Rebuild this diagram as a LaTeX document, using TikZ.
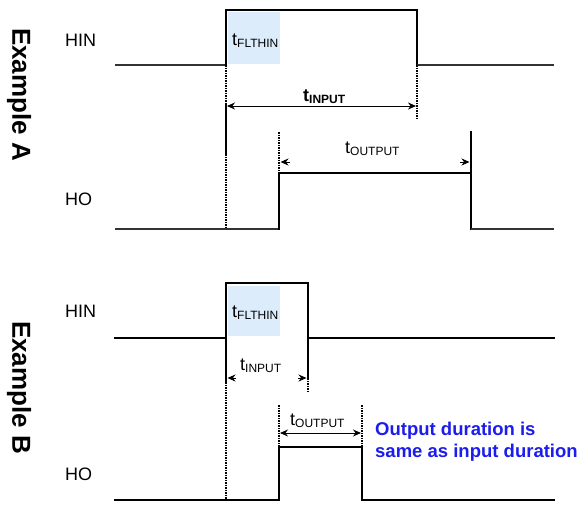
\documentclass[tikz,border=0pt]{standalone}
\usepackage{fontspec}
\setmainfont{Liberation Sans}
\usetikzlibrary{arrows.meta}
\definecolor{shadeblue}{RGB}{220,236,251}
\definecolor{noteblue}{RGB}{28,28,238}
\newcommand\tsub[1]{t\raisebox{-0.13em}{\fontsize{12}{12}\selectfont #1}}
\tikzset{
  sig/.style={line width=2.6pt, line cap=rect, line join=miter},
  thinsig/.style={line width=1.5pt, black!80},
  dotv/.style={line width=2.2pt, dash pattern=on 1.6pt off 0.9pt},
  dimarrow/.style={line width=1pt, {Stealth[length=8pt,width=7pt]}-{Stealth[length=8pt,width=7pt]}},
  tiparrow/.style={line width=1pt, -{Stealth[length=8pt,width=7pt]}},
  lbl/.style={font=\fontsize{18}{20}\selectfont, anchor=base west, inner sep=0},
  ex/.style={font=\fontsize{26}{28}\selectfont\bfseries, rotate=-90, inner sep=0},
  note/.style={font=\fontsize{18.5}{22}\selectfont\bfseries, text=noteblue, anchor=base west, inner sep=0},
}
\begin{document}
\begin{tikzpicture}[x=1pt, y=-1pt]
\useasboundingbox (0,0) rectangle (581,506);

% ---------------- Example A ----------------
\node[ex] (exA) at (19,94.5) {Example A};
\node[lbl] (hinA) at (65,46) {HIN};
\node[lbl] (hoA) at (65,205) {HO};

\fill[shadeblue] (228,12) rectangle (280,64);
\node[lbl] (tfA) at (232,45) {\tsub{FLTHIN}};

% HIN A
\coordinate (a1) at (115,65);
\coordinate (a2) at (226,65);
\coordinate (a3) at (226,10);
\coordinate (a4) at (417,10);
\coordinate (a5) at (417,65);
\coordinate (a6) at (554,65);
\draw[thinsig] (a1) -- (a2);
\draw[sig] (a2) -- (a3) -- (a4) -- (a5);
\draw[thinsig] (a5) -- (a6);

% markers A at x=226
\coordinate (av1) at (226,104);
\coordinate (av2) at (226,154);
\coordinate (av3) at (226,229);
\draw[dotv] (a2) -- (av1);
\draw[sig] (av1) -- (av2);
\draw[dotv] (av2) -- (av3);
\coordinate (ar1) at (417,119);
\draw[dotv] (a5) -- (ar1);

% tINPUT A
\coordinate (ia1) at (227,106);
\coordinate (ia2) at (416,106);
\draw[dimarrow] (ia1) -- (ia2);
\node[lbl] (tiA) at (303,101) {\textbf{\tsub{INPUT}}};

% HO A
\coordinate (b1) at (115,229);
\coordinate (b2) at (279,229);
\coordinate (b3) at (279,173);
\coordinate (b4) at (471,173);
\coordinate (b5) at (471,229);
\coordinate (b6) at (554,229);
\coordinate (b7) at (471,132);
\coordinate (b8) at (279,132);
\draw[thinsig] (b1) -- (b2);
\draw[sig] (b2) -- (b3) -- (b4) -- (b5);
\draw[thinsig] (b5) -- (b6);
\draw[sig] (b4) -- (b7);
\draw[dotv] (b8) -- (b3);

% tOUTPUT A (tips only)
\coordinate (oa1s) at (290,162);
\coordinate (oa1) at (280.5,162);
\coordinate (oa2s) at (460,162);
\coordinate (oa2) at (469.5,162);
\draw[tiparrow] (oa1s) -- (oa1);
\draw[tiparrow] (oa2s) -- (oa2);
\node[lbl] (toA) at (345,153) {\tsub{OUTPUT}};

% ---------------- Example B ----------------
\node[ex] (exB) at (19,387.5) {Example B};
\node[lbl] (hinB) at (65,317) {HIN};
\node[lbl] (hoB) at (65,480) {HO};

\fill[shadeblue] (228,286) rectangle (280,336);
\node[lbl] (tfB) at (232,317) {\tsub{FLTHIN}};

% HIN B
\coordinate (c1) at (115,338);
\coordinate (c2) at (226,338);
\coordinate (c3) at (226,283);
\coordinate (c4) at (308,283);
\coordinate (c5) at (308,338);
\coordinate (c6) at (554,338);
\draw[sig] (c1) -- (c2) -- (c3) -- (c4) -- (c5) -- (c6);

% markers B
\coordinate (cv1) at (226,382);
\coordinate (cv2) at (226,500);
\draw[sig] (c2) -- (cv1);
\draw[dotv] (cv1) -- (cv2);
\coordinate (cr1) at (308,378);
\coordinate (cr2) at (308,392);
\draw[sig] (c5) -- (cr1);
\draw[dotv] (cr1) -- (cr2);

% tINPUT B (tips only)
\coordinate (ib1s) at (236,378);
\coordinate (ib1) at (227.5,378);
\coordinate (ib2s) at (298,378);
\coordinate (ib2) at (306.5,378);
\draw[tiparrow] (ib1s) -- (ib1);
\draw[tiparrow] (ib2s) -- (ib2);
\node[lbl] (tiB) at (240,370) {\tsub{INPUT}};

% HO B
\coordinate (d1) at (115,500);
\coordinate (d2) at (279,500);
\coordinate (d3) at (279,447);
\coordinate (d4) at (362,447);
\coordinate (d5) at (362,500);
\coordinate (d6) at (554,500);
\draw[sig] (d1) -- (d2) -- (d3) -- (d4) -- (d5) -- (d6);
\coordinate (dv1) at (279,405);
\coordinate (dv2) at (362,405);
\draw[dotv] (dv1) -- (d3);
\draw[dotv] (dv2) -- (d4);

% tOUTPUT B
\coordinate (ob1) at (280,433);
\coordinate (ob2) at (361,433);
\draw[dimarrow] (ob1) -- (ob2);
\node[lbl] (toB) at (290,425) {\tsub{OUTPUT}};

% note
\node[note] (n1) at (375,435) {Output duration is};
\node[note] (n2) at (375,457) {same as input duration};
\end{tikzpicture}
\end{document}
